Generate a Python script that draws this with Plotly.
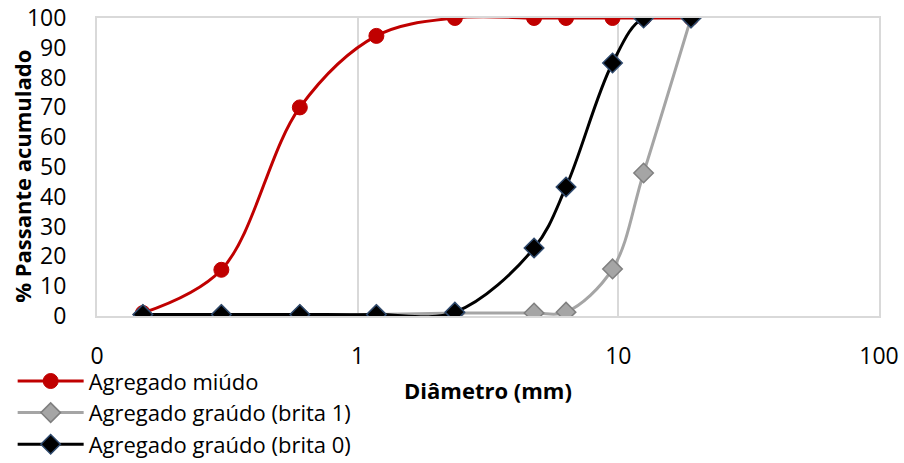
import plotly.graph_objects as go

diametro = [0.15, 0.3, 0.6, 1.18, 2.36, 4.75, 6.3, 9.5, 12.5, 19]
miudo = [1.0, 15.5, 70.0, 94.0, 100.0, 100.0, 100.0, 100.0, 100.0, 100.0]
brita1 = [0.5, 0.5, 0.5, 0.5, 1.0, 1.0, 1.3, 15.8, 48.0, 100.0]
brita0 = [0.5, 0.5, 0.5, 0.5, 1.3, 22.8, 43.3, 84.9, 100.0, 100.0]
x_tickvals = [0.1, 1, 10, 100]
x_ticktext = ["0", "1", "10", "100"]
y_tickvals = list(range(0, 101, 10))
x_title = "Diâmetro (mm)"
y_title = "% Passante acumulado"

FONT = "Open Sans"

fig = go.Figure()
fig.add_trace(go.Scatter(
    x=diametro, y=miudo, name="Agregado miúdo", mode="lines+markers",
    line=dict(color="#c00000", width=3, shape="spline", smoothing=1),
    marker=dict(symbol="circle", size=15, color="#c00000", line=dict(color="#c00000", width=1)),
))
fig.add_trace(go.Scatter(
    x=diametro, y=brita1, name="Agregado graúdo (brita 1)", mode="lines+markers",
    line=dict(color="#a5a5a5", width=3, shape="spline", smoothing=1),
    marker=dict(symbol="diamond", size=15, color="#a5a5a5", line=dict(color="#7f7f7f", width=1.5)),
))
fig.add_trace(go.Scatter(
    x=diametro, y=brita0, name="Agregado graúdo (brita 0)", mode="lines+markers",
    line=dict(color="#000000", width=3, shape="spline", smoothing=1),
    marker=dict(symbol="diamond", size=15, color="#000000", line=dict(color="#2f4a6e", width=1.5)),
))

fig.update_layout(
    width=904, height=463,
    margin=dict(l=97, r=25, t=18, b=147, autoexpand=False),
    paper_bgcolor="white", plot_bgcolor="white",
    font=dict(family=FONT, size=23, color="#000000"),
    showlegend=True,
    legend=dict(
        xref="container", yref="container", x=0.014, y=0.222,
        xanchor="left", yanchor="top", orientation="v",
        font=dict(family=FONT, size=22), itemwidth=66, tracegroupgap=0,
        bgcolor="rgba(0,0,0,0)",
    ),
    xaxis=dict(
        type="log", range=[-1, 2], automargin=False,
        tickvals=x_tickvals, ticktext=x_ticktext,
        showgrid=True, gridcolor="#d9d9d9", gridwidth=2,
        showline=True, linecolor="#d9d9d9", linewidth=2, mirror=True,
        ticks="", ticklabelstandoff=18, zeroline=False,
        tickfont=dict(size=23),
    ),
    yaxis=dict(
        range=[0, 100], tickvals=y_tickvals, automargin=False,
        showgrid=False, zeroline=False,
        showline=True, linecolor="#d9d9d9", linewidth=2, mirror=True,
        ticks="", ticklabelstandoff=24,
        tickfont=dict(size=23),
    ),
    annotations=[
        dict(text=f"<b>{x_title}</b>", xref="paper", yref="paper", x=0.5, y=-0.248,
             xanchor="center", yanchor="middle", showarrow=False, font=dict(size=22)),
        dict(text=f"<b>{y_title}</b>", xref="paper", yref="paper", x=-0.096, y=0.47,
             xanchor="center", yanchor="middle", textangle=-90, showarrow=False, font=dict(size=22)),
    ],
)

fig.write_html("out.html")
